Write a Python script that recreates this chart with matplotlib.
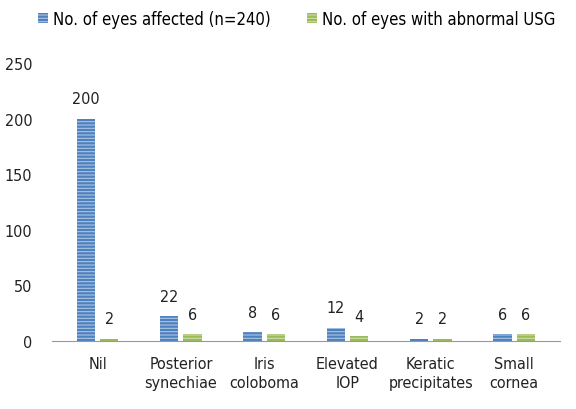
import matplotlib
matplotlib.use("Agg")
import matplotlib.pyplot as plt
import numpy as np

categories = ["Nil", "Posterior\nsynechiae", "Iris\ncoloboma", "Elevated\nIOP",
              "Keratic\nprecipitates", "Small\ncornea"]
affected = [200, 22, 8, 12, 2, 6]
abnormal_usg = [2, 6, 6, 4, 2, 6]
series_names = ["No. of eyes affected (n=240)", "No. of eyes with abnormal USG"]

plt.rcParams['font.family'] = ['DejaVu Sans']
plt.rcParams['font.stretch'] = 'condensed'
plt.rcParams['hatch.linewidth'] = 0.8

fig = plt.figure(figsize=(5.76, 4.1), dpi=100)
ax = fig.add_axes([0.09, 0.166, 0.882, 0.678])

x = np.arange(len(categories))
w = 0.22
gap = 0.03
b1 = ax.bar(x - w / 2 - gap, affected, w, color='#4f81bd', edgecolor='#a9c4e6',
            hatch='-----', linewidth=0, label=series_names[0])
b2 = ax.bar(x + w / 2 + gap, abnormal_usg, w, color='#9bbb59', edgecolor='#cddcaa',
            hatch='-----', linewidth=0, label=series_names[1])

for bars, vals in [(b1, affected), (b2, abnormal_usg)]:
    for r, v in zip(bars, vals):
        ax.annotate(str(v), (r.get_x() + r.get_width() / 2, v), xytext=(0, 9),
                    textcoords='offset points', ha='center', va='bottom',
                    fontsize=11.5, color='#222222')

ax.set_ylim(0, 250)
ax.set_xlim(-0.55, len(categories) - 0.45)
ax.set_yticks(range(0, 251, 50))
ax.set_xticks(x)
ax.set_xticklabels(categories, fontsize=11.5, color='#222222', linespacing=1.35)
ax.tick_params(axis='y', labelsize=11.5, labelcolor='#222222', length=0, pad=14)
ax.tick_params(axis='x', length=0, pad=11)
for s in ['top', 'right', 'left']:
    ax.spines[s].set_visible(False)
ax.spines['bottom'].set_color('#999999')

fig.legend(handles=[b1, b2], loc='upper center', bbox_to_anchor=(0.515, 1.01),
           ncol=2, frameon=False, fontsize=12, handlelength=0.6,
           handleheight=0.6, columnspacing=2.2, handletextpad=0.3)

fig.savefig("out.png", dpi=100)
